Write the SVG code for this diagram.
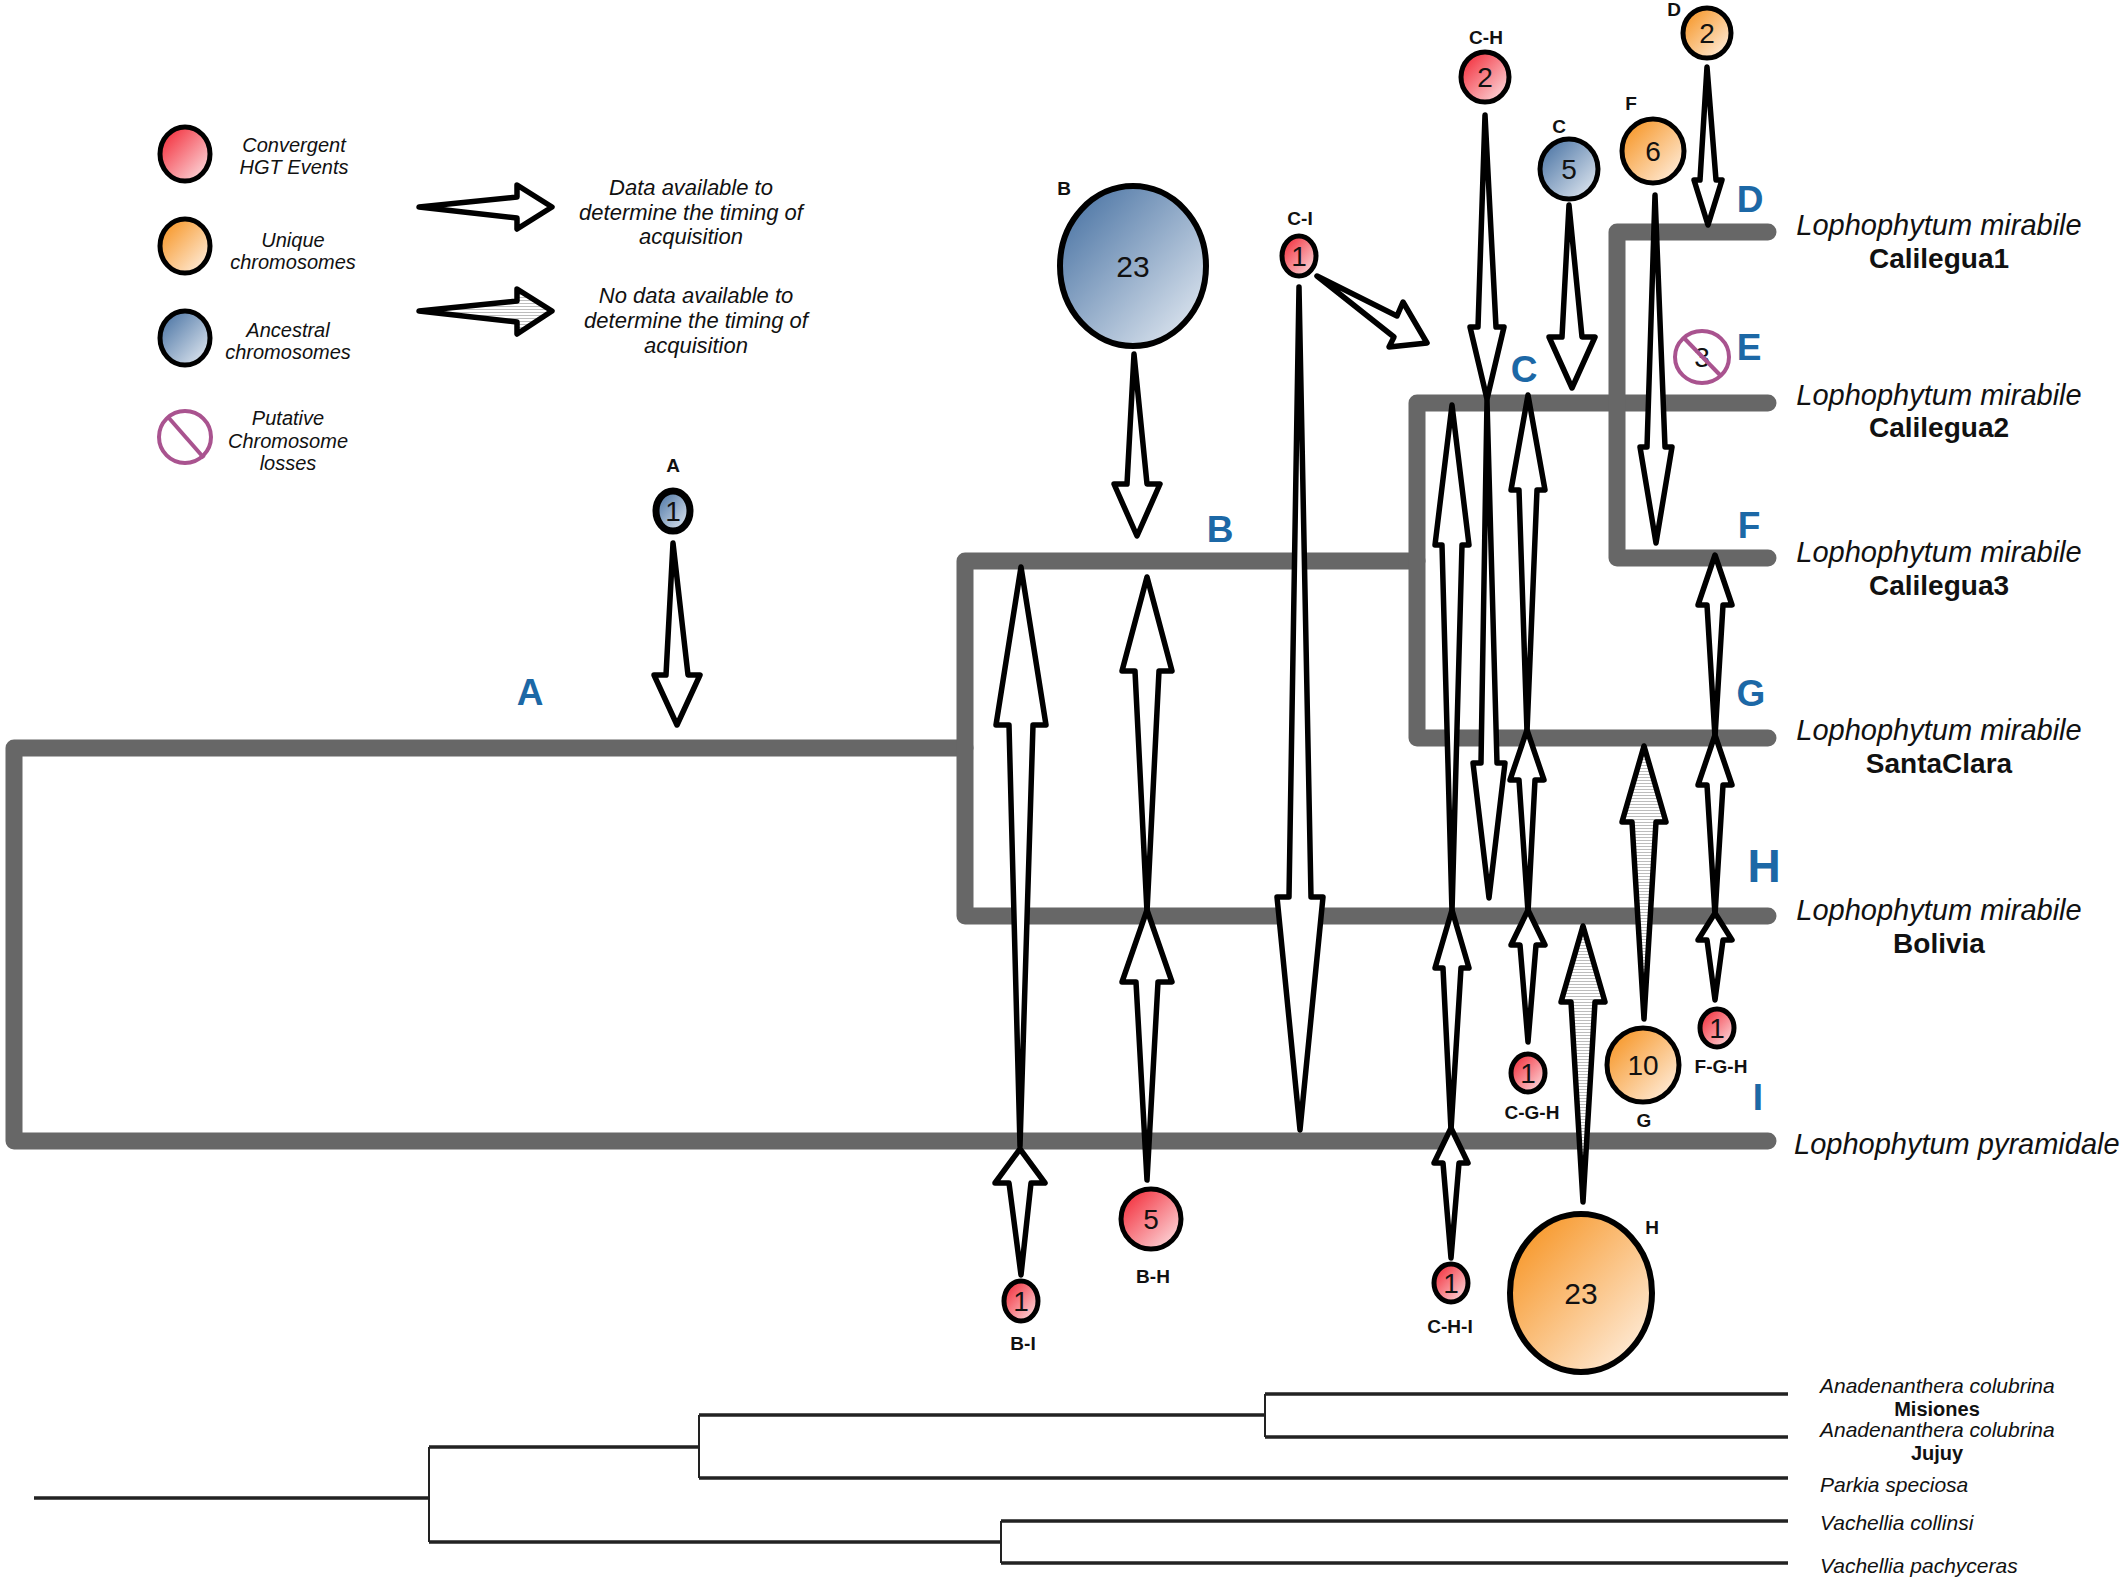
<svg xmlns="http://www.w3.org/2000/svg" width="2128" height="1582" viewBox="0 0 2128 1582">
<defs>
<linearGradient id="gRed" x1="0" y1="0" x2="1" y2="1"><stop offset="0" stop-color="#f21d2b"/><stop offset="1" stop-color="#fde9eb"/></linearGradient>
<linearGradient id="gOrange" x1="0" y1="0" x2="1" y2="1"><stop offset="0" stop-color="#f68d14"/><stop offset="1" stop-color="#fff5ec"/></linearGradient>
<linearGradient id="gBlue" x1="0" y1="0" x2="1" y2="1"><stop offset="0" stop-color="#3f6b9e"/><stop offset="1" stop-color="#ebf0f6"/></linearGradient>
<pattern id="hatch" width="6" height="3" patternUnits="userSpaceOnUse"><rect width="6" height="3" fill="#fff"/><rect width="6" height="1" fill="#bdbdbd"/></pattern>
</defs>
<style>
.tree{fill:none;stroke:#676767;stroke-width:17;stroke-linecap:round;stroke-linejoin:round}
.out{fill:none;stroke:#222;stroke-width:3.5}
.outv{fill:none;stroke:#222;stroke-width:2}
.arr{fill:#fff;stroke:#000;stroke-width:5.5;stroke-linejoin:round}
.hat{fill:url(#hatch)}
.red{fill:url(#gRed);stroke:#000;stroke-width:5}
.org{fill:url(#gOrange);stroke:#000;stroke-width:5}
.blu{fill:url(#gBlue);stroke:#000;stroke-width:5}
.big{stroke-width:6}
.loss{fill:none;stroke:#a9538f;stroke-width:4}
.num{font-family:"Liberation Sans",Arial,sans-serif;font-size:28px;text-anchor:middle;fill:#111}
.num30{font-size:30px}
.lab{font-family:"Liberation Sans",Arial,sans-serif;font-weight:bold;font-size:19px;text-anchor:middle;fill:#111}
.blue{font-family:"Liberation Sans",Arial,sans-serif;font-weight:bold;font-size:37px;fill:#1c68a6;text-anchor:middle}
.sp{font-family:"Liberation Sans",Arial,sans-serif;font-style:italic;font-size:29px;text-anchor:middle;fill:#111}
.spb{font-family:"Liberation Sans",Arial,sans-serif;font-weight:bold;font-size:28px;text-anchor:middle;fill:#111}
.leg{font-family:"Liberation Sans",Arial,sans-serif;font-style:italic;font-size:20px;text-anchor:middle;fill:#111}
.legA{font-family:"Liberation Sans",Arial,sans-serif;font-style:italic;font-size:22px;text-anchor:middle;fill:#111}
.og{font-family:"Liberation Sans",Arial,sans-serif;font-style:italic;font-size:21px;fill:#111}
.ogb{font-family:"Liberation Sans",Arial,sans-serif;font-weight:bold;font-size:20px;text-anchor:middle;fill:#111}
</style>
<rect width="2128" height="1582" fill="#fff"/>

<!-- Legend -->
<g id="legend">
<g id="leg-convergent"><ellipse class="red" cx="185" cy="154" rx="25" ry="27"/><text class="leg" x="294" y="152">Convergent</text><text class="leg" x="294" y="174">HGT Events</text></g>
<g id="leg-unique"><ellipse class="org" cx="185" cy="246" rx="25" ry="27"/><text class="leg" x="293" y="247">Unique</text><text class="leg" x="293" y="269">chromosomes</text></g>
<g id="leg-ancestral"><ellipse class="blu" cx="185" cy="338" rx="25" ry="27"/><text class="leg" x="288" y="337">Ancestral</text><text class="leg" x="288" y="359">chromosomes</text></g>
<g id="leg-loss"><ellipse class="loss" cx="185" cy="437" rx="26" ry="26"/><line class="loss" x1="168" y1="417" x2="204" y2="458"/><text class="leg" x="288" y="425">Putative</text><text class="leg" x="288" y="448">Chromosome</text><text class="leg" x="288" y="470">losses</text></g>
<g id="leg-data"><polygon class="arr" points="419,207 517,197 517,185 552,207 517,229 517,218"/><text class="legA" x="691" y="195">Data available to</text><text class="legA" x="691" y="220">determine the timing of</text><text class="legA" x="691" y="244">acquisition</text></g>
<g id="leg-nodata"><polygon class="arr hat" points="419,311 517,301 517,289 552,311 517,334 517,322"/><text class="legA" x="696" y="303">No data available to</text><text class="legA" x="696" y="328">determine the timing of</text><text class="legA" x="696" y="353">acquisition</text></g>
</g>

<!-- Main tree -->
<g id="tree">
<path class="tree" d="M965 748 H14 V1141 H1768"/>
<path class="tree" d="M1417 561 H965 V916 H1768"/>
<path class="tree" d="M1768 403 H1417 V738 H1768"/>
<path class="tree" d="M1768 232 H1617 V558 H1768"/>
</g>

<g id="branch-labels">
<text class="blue" x="530" y="705">A</text>
<text class="blue" x="1220" y="542">B</text>
<text class="blue" x="1524" y="382">C</text>
<text class="blue" x="1750" y="212">D</text>
<text class="blue" x="1749" y="360">E</text>
<text class="blue" x="1749" y="538">F</text>
<text class="blue" x="1751" y="706">G</text>
<text class="blue" x="1764" y="882" style="font-size:46px">H</text>
<text class="blue" x="1758" y="1110">I</text>
</g>

<g id="species">
<text class="sp" x="1939" y="235">Lophophytum mirabile</text><text class="spb" x="1939" y="268">Calilegua1</text>
<text class="sp" x="1939" y="405">Lophophytum mirabile</text><text class="spb" x="1939" y="437">Calilegua2</text>
<text class="sp" x="1939" y="562">Lophophytum mirabile</text><text class="spb" x="1939" y="595">Calilegua3</text>
<text class="sp" x="1939" y="740">Lophophytum mirabile</text><text class="spb" x="1939" y="773">SantaClara</text>
<text class="sp" x="1939" y="920">Lophophytum mirabile</text><text class="spb" x="1939" y="953">Bolivia</text>
<text class="sp" x="1794" y="1154" style="text-anchor:start">Lophophytum pyramidale</text>
</g>

<!-- Connectors -->
<g id="connectors">
<polygon class="arr" points="673,543 666,675 654,675 677,725 700,675 688,675"/>
<polygon class="arr" points="1134,354 1127,484 1114,484 1137,536 1160,484 1147,484"/>
<polygon class="arr" points="1021,1275 1009,1183 995,1183 1020,1149 1045,1183 1031,1183"/>
<polygon class="arr" points="1020,1146 1009,725 996,725 1021,567 1046,725 1033,725"/>
<polygon class="arr" points="1147,1180 1136,982 1122,982 1147,910 1172,982 1158,982"/>
<polygon class="arr" points="1147,912 1135,671 1122,671 1147,577 1172,671 1159,671"/>
<polygon class="arr" points="1299,287 1289,897 1277,897 1300,1130 1323,897 1311,897"/>
<polygon class="arr" points="1317,276 1397,316 1403,302 1427,343 1389,347 1394,337"/>
<polygon class="arr" points="1485,115 1478,327 1470,327 1487,399 1504,327 1496,327"/>
<polygon class="arr" points="1487,401 1481,763 1473,763 1489,898 1505,763 1497,763"/>
<polygon class="arr" points="1451,1258 1443,1163 1434,1163 1451,1128 1468,1163 1459,1163"/>
<polygon class="arr" points="1451,1130 1443,968 1435,968 1452,910 1469,968 1461,968"/>
<polygon class="arr" points="1452,912 1442,545 1435,545 1452,405 1469,545 1462,545"/>
<polygon class="arr" points="1528,1042 1520,945 1511,945 1528,910 1545,945 1536,945"/>
<polygon class="arr" points="1528,912 1519,780 1510,780 1527,730 1544,780 1535,780"/>
<polygon class="arr" points="1527,732 1519,490 1511,490 1528,395 1545,490 1537,490"/>
<polygon class="arr" points="1569,205 1562,337 1549,337 1572,388 1595,337 1582,337"/>
<polygon class="arr" points="1655,195 1647,447 1640,447 1656,543 1672,447 1665,447"/>
<polygon class="arr" points="1707,67 1700,180 1694,180 1708,225 1722,180 1716,180"/>
<polygon class="arr" points="1715,1000 1707,940 1698,940 1715,913 1732,940 1723,940"/>
<polygon class="arr" points="1715,915 1707,785 1698,785 1715,735 1732,785 1723,785"/>
<polygon class="arr" points="1715,737 1707,605 1698,605 1715,555 1732,605 1723,605"/>
<polygon class="arr hat" points="1644,1019 1632,822 1622,822 1644,746 1666,822 1656,822"/>
<polygon class="arr hat" points="1583,1202 1571,1002 1561,1002 1583,926 1605,1002 1595,1002"/>
</g>

<!-- Nodes -->
<g id="node-A"><ellipse class="blu" style="stroke-width:7" cx="673" cy="511" rx="17" ry="20"/><text class="num" x="673" y="521">1</text><text class="lab" x="673" y="472">A</text></g>
<g id="node-B"><ellipse class="blu big" cx="1133" cy="266" rx="73" ry="80"/><text class="num num30" x="1133" y="277">23</text><text class="lab" x="1064" y="195">B</text></g>
<g id="node-C-I"><ellipse class="red" cx="1299" cy="256" rx="17" ry="20"/><text class="num" x="1299" y="266">1</text><text class="lab" x="1300" y="225">C-I</text></g>
<g id="node-C-H"><ellipse class="red" cx="1485" cy="77" rx="24" ry="25"/><text class="num" x="1485" y="87">2</text><text class="lab" x="1486" y="44">C-H</text></g>
<g id="node-C"><ellipse class="blu" cx="1569" cy="169" rx="29" ry="30"/><text class="num" x="1569" y="179">5</text><text class="lab" x="1559" y="133">C</text></g>
<g id="node-F"><ellipse class="org" cx="1653" cy="151" rx="31" ry="32"/><text class="num" x="1653" y="161">6</text><text class="lab" x="1631" y="110">F</text></g>
<g id="node-D"><ellipse class="org" cx="1707" cy="33" rx="24" ry="25"/><text class="num" x="1707" y="43">2</text><text class="lab" x="1674" y="16">D</text></g>
<g id="node-E"><ellipse class="loss" cx="1702" cy="357" rx="27" ry="26"/><text class="num" x="1702" y="367">3</text><line class="loss" x1="1684" y1="338" x2="1720" y2="375"/></g>
<g id="node-B-I"><ellipse class="red" cx="1021" cy="1301" rx="17" ry="20"/><text class="num" x="1021" y="1311">1</text><text class="lab" x="1023" y="1350">B-I</text></g>
<g id="node-B-H"><ellipse class="red" cx="1151" cy="1219" rx="30" ry="30"/><text class="num" x="1151" y="1229">5</text><text class="lab" x="1153" y="1283">B-H</text></g>
<g id="node-C-H-I"><ellipse class="red" cx="1451" cy="1283" rx="17" ry="19"/><text class="num" x="1451" y="1293">1</text><text class="lab" x="1450" y="1333">C-H-I</text></g>
<g id="node-H"><ellipse class="org big" cx="1581" cy="1293" rx="71" ry="79"/><text class="num num30" x="1581" y="1304">23</text><text class="lab" x="1652" y="1234">H</text></g>
<g id="node-C-G-H"><ellipse class="red" cx="1528" cy="1073" rx="17" ry="19"/><text class="num" x="1528" y="1083">1</text><text class="lab" x="1532" y="1119">C-G-H</text></g>
<g id="node-G"><ellipse class="org" cx="1643" cy="1065" rx="36" ry="37"/><text class="num" x="1643" y="1075">10</text><text class="lab" x="1644" y="1127">G</text></g>
<g id="node-F-G-H"><ellipse class="red" cx="1717" cy="1028" rx="17" ry="19"/><text class="num" x="1717" y="1038">1</text><text class="lab" x="1721" y="1073">F-G-H</text></g>

<!-- Outgroup tree -->
<g id="outgroup-tree">
<path class="out" d="M34 1498 H429 M429 1447 H699 M699 1415 H1265 M1265 1394 H1788 M1265 1437 H1788 M699 1478 H1788 M429 1542 H1001 M1001 1521 H1788 M1001 1563 H1788"/>
<path class="outv" d="M429 1447 V1542 M699 1415 V1478 M1265 1394 V1437 M1001 1521 V1563"/>
</g>
<g id="outgroup-labels">
<text class="og" x="1820" y="1393">Anadenanthera colubrina</text>
<text class="ogb" x="1937" y="1416">Misiones</text>
<text class="og" x="1820" y="1437">Anadenanthera colubrina</text>
<text class="ogb" x="1937" y="1460">Jujuy</text>
<text class="og" x="1820" y="1492">Parkia speciosa</text>
<text class="og" x="1820" y="1530">Vachellia collinsi</text>
<text class="og" x="1820" y="1573">Vachellia pachyceras</text>
</g>
</svg>
